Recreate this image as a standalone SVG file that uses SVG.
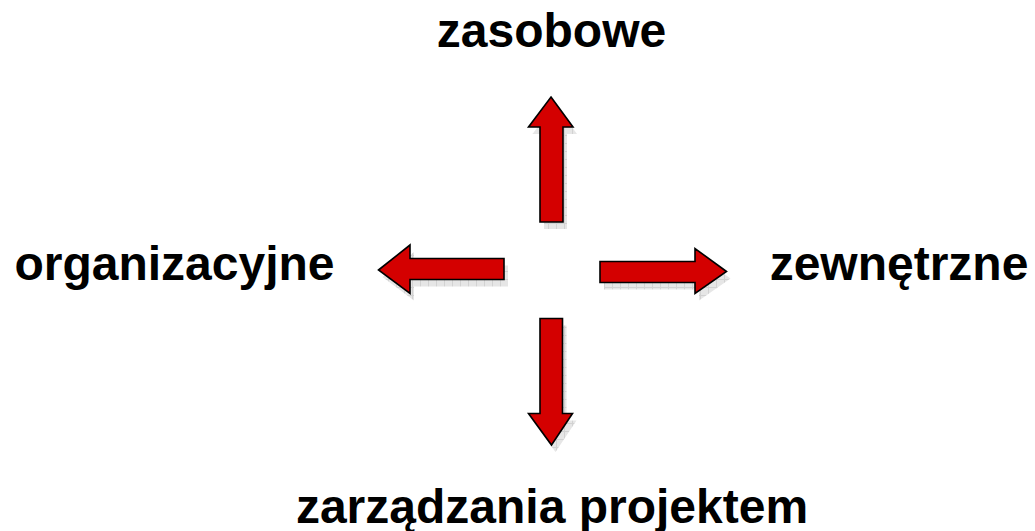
<svg xmlns="http://www.w3.org/2000/svg" width="1035" height="531" viewBox="0 0 1035 531">
  <defs>
    <style>
      .label { font-family: "Liberation Sans", Arial, sans-serif; font-weight: bold; font-size: 48px; fill: #000; text-anchor: middle; }
      .arrow { fill: #d40000; stroke: #000; stroke-width: 1.6; stroke-linejoin: miter; }
      .shadow { fill: url(#hatch); }
    </style>
    <pattern id="hatch" width="8" height="8" patternUnits="userSpaceOnUse">
      <rect width="8" height="8" fill="#e6e6e6"/>
      <path d="M0 0.5H8M0.5 0V8" stroke="#d2d2d2" stroke-width="1"/>
    </pattern>
    <path id="up" d="M551 97 L573 127 L563 127 L563 222 L540 222 L540 127 L528.5 127 Z"/>
    <path id="left" d="M378.5 270 L410 245 L410 258.5 L504 258.5 L504 279.5 L410 279.5 L410 293.5 Z"/>
    <path id="right" d="M726.5 271.5 L695 248.5 L695 261.5 L600 261.5 L600 282.5 L695 282.5 L695 293.5 Z"/>
    <path id="down" d="M551.5 445 L572.5 413.5 L562.5 413.5 L562.5 318.5 L540 318.5 L540 413.5 L528.5 413.5 Z"/>
  </defs>

  <!-- drop shadows under the arrows -->
  <g id="shadows" transform="translate(4 7)">
    <use href="#up" class="shadow"/>
    <use href="#left" class="shadow"/>
    <use href="#right" class="shadow"/>
    <use href="#down" class="shadow"/>
  </g>

  <!-- arrows pointing outward from the centre -->
  <g id="connectors">
    <use href="#up" class="arrow"/>
    <use href="#left" class="arrow"/>
    <use href="#right" class="arrow"/>
    <use href="#down" class="arrow"/>
  </g>

  <g id="node-zasobowe">
    <text class="label" x="551.5" y="47">zasobowe</text>
  </g>
  <g id="node-organizacyjne">
    <text class="label" x="174.5" y="280">organizacyjne</text>
  </g>
  <g id="node-zewnetrzne">
    <text class="label" x="899" y="280">zewnętrzne</text>
  </g>
  <g id="node-zarzadzania">
    <text class="label" x="552" y="523">zarządzania projektem</text>
  </g>
</svg>
